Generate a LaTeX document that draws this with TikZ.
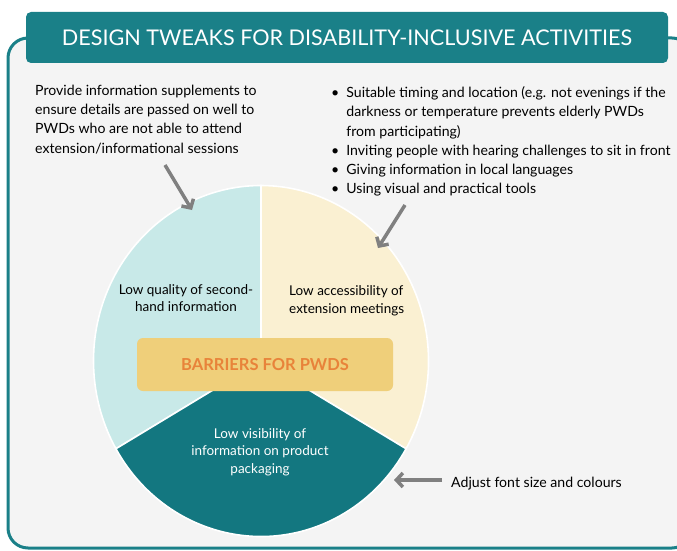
\documentclass[tikz,border=0pt]{standalone}
\usepackage{fontspec}
\setmainfont{Lato}
\usetikzlibrary{arrows.meta,positioning}
\definecolor{tealdark}{RGB}{19,119,128}
\definecolor{tealhead}{RGB}{26,128,136}
\definecolor{sliceblue}{RGB}{200,233,232}
\definecolor{slicecream}{RGB}{250,240,210}
\definecolor{barrierfill}{RGB}{239,207,122}
\definecolor{barriertext}{RGB}{232,131,58}
\definecolor{panelbg}{RGB}{244,244,244}
\definecolor{arrowgrey}{RGB}{128,128,128}

\begin{document}
\begin{tikzpicture}[
  x=1pt, y=1pt,
  lbl/.style={font=\fontsize{13.5}{17.5}\selectfont, align=center, inner sep=0pt},
  note/.style={font=\fontsize{14.1}{19.2}\selectfont, align=left, inner sep=0pt},
  slice/.style={draw=white, line width=1.6pt},
  pointer/.style={draw=arrowgrey, line width=3.5pt, -{Straight Barb[length=6.5pt,width=14pt]}},
]
\useasboundingbox (0,0) rectangle (677,550);
% panel behind everything
\draw[tealhead, line width=3pt, fill=panelbg, rounded corners=20pt] (8,2) rectangle (692,512);
% title bar
\node[fill=tealhead, rounded corners=5pt, minimum width=642pt, minimum height=51pt,
  text=white, font=\fontsize{21.6}{25}\selectfont] (title) at (347,512.5)
  {DESIGN TWEAKS FOR DISABILITY-INCLUSIVE ACTIVITIES};
% pie of barriers (slightly taller than wide)
\coordinate (c) at (261,189);
\filldraw[slice, fill=sliceblue] (c) -- +(90:167.5pt and 175.5pt)
  arc[start angle=90, end angle=210, x radius=167.5pt, y radius=175.5pt] -- cycle;
\filldraw[slice, fill=slicecream] (c) -- +(-30:167.5pt and 175.5pt)
  arc[start angle=-30, end angle=90, x radius=167.5pt, y radius=175.5pt] -- cycle;
\filldraw[slice, fill=tealdark] (c) -- +(210:167.5pt and 175.5pt)
  arc[start angle=210, end angle=330, x radius=167.5pt, y radius=175.5pt] -- cycle;
\node[fill=barrierfill, rounded corners=6pt, minimum width=256pt, minimum height=53pt,
  text=barriertext, font=\fontsize{16.5}{20}\selectfont\bfseries] (barriers) at (265,185.5)
  {BARRIERS FOR PWDS};
\node[lbl] (quality) at (186,252) {Low quality of second-\\hand information};
\node[lbl, align=left, anchor=west] (access) at (289,249) {Low accessibility of\\extension meetings};
\node[lbl, text=white] (visibility) at (260,98) {Low visibility of\\information on product\\packaging};
% design tweaks
\node[note, anchor=north west] (supplement) at (35,465)
  {Provide information supplements to\\ensure details are passed on well to\\PWDs who are not able to attend\\extension/informational sessions};
\node[note, anchor=north west] (tweaks) at (331,466) {%
  \begin{tabular}{@{}l@{\hspace{7pt}}l@{}}
  \textbullet & Suitable timing and location (e.g. not evenings if the\\
              & darkness or temperature prevents elderly PWDs\\
              & from participating)\\
  \textbullet & Inviting people with hearing challenges to sit in front\\
  \textbullet & Giving information in local languages\\
  \textbullet & Using visual and practical tools
  \end{tabular}};
\node[note, anchor=west] (adjust) at (451,66) {Adjust font size and colours};
% pointers onto the pie
\coordinate (p1s) at (165,385);
\coordinate (p1e) at (192,340);
\coordinate (p2s) at (405,345);
\coordinate (p2e) at (378,302);
\coordinate (p3s) at (442,70);
\coordinate (p3e) at (394,70);
\draw[pointer] (p1s) -- (p1e);
\draw[pointer] (p2s) -- (p2e);
\draw[pointer] (p3s) -- (p3e);
\end{tikzpicture}
\end{document}
